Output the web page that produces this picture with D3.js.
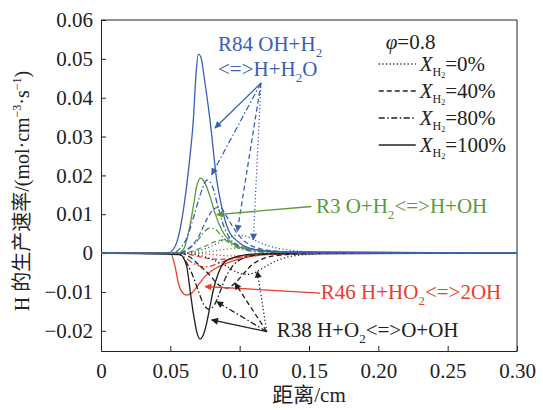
<!DOCTYPE html>
<html>
<head>
<meta charset="utf-8">
<script src="https://cdn.jsdelivr.net/npm/d3@7"></script>
<style>
  body { margin: 0; background: #fff; }
</style>
</head>
<body>
<svg id="chart" width="543" height="410"></svg>
<script>
// ---- data ----
// each curve: [distance cm, H production rate mol/(cm3 s)]
const r84_100 = [[0,0],[0.048,0],[0.0534,0.0017],[0.058,0.008],[0.062,0.018],[0.0645,0.026],[0.0666,0.0343],[0.0685,0.046],[0.0702,0.0512],[0.072,0.0505],[0.0745,0.045],[0.0786,0.0343],[0.0834,0.019],[0.087,0.012],[0.0918,0.006],[0.1,0.0026],[0.11,0.001],[0.13,0.0003],[0.3,0]];
const r84_80  = [[0,0],[0.052,0],[0.057,0.0012],[0.062,0.004],[0.067,0.0095],[0.072,0.0155],[0.0765,0.0188],[0.08,0.0175],[0.084,0.0125],[0.088,0.0075],[0.093,0.0038],[0.1,0.0016],[0.11,0.0006],[0.13,0.0002],[0.3,0]];
const r84_40  = [[0,0],[0.056,0],[0.063,0.0012],[0.07,0.004],[0.076,0.0085],[0.082,0.0115],[0.086,0.0118],[0.09,0.0098],[0.095,0.0068],[0.1,0.0043],[0.106,0.0024],[0.115,0.0011],[0.13,0.0004],[0.16,0.0001],[0.3,0]];
const r84_0   = [[0,0],[0.06,0],[0.07,0.0006],[0.08,0.0018],[0.09,0.0036],[0.098,0.0046],[0.104,0.0044],[0.11,0.0035],[0.118,0.0022],[0.128,0.0012],[0.14,0.0006],[0.16,0.0002],[0.3,0]];

const r3_100 = [[0,0],[0.055,0],[0.0594,0.0009],[0.063,0.0051],[0.0666,0.012],[0.069,0.0172],[0.0719,0.0193],[0.075,0.018],[0.0786,0.0146],[0.0822,0.0103],[0.087,0.006],[0.093,0.003],[0.1026,0.0013],[0.13,0.0004],[0.3,0]];
const r3_80  = [[0,0],[0.055,0],[0.062,0.0008],[0.068,0.0025],[0.073,0.0048],[0.078,0.0064],[0.082,0.0062],[0.086,0.0048],[0.091,0.003],[0.097,0.0016],[0.105,0.0007],[0.12,0.0002],[0.3,0]];
const r3_40  = [[0,0],[0.058,0],[0.066,0.0005],[0.074,0.0016],[0.082,0.0029],[0.088,0.0034],[0.094,0.0029],[0.1,0.002],[0.108,0.0011],[0.12,0.0004],[0.14,0.0001],[0.3,0]];
const r3_0   = [[0,0],[0.065,0],[0.078,0.0004],[0.09,0.001],[0.1,0.0013],[0.108,0.0011],[0.118,0.0007],[0.13,0.0003],[0.15,0.0001],[0.3,0]];

const r46_100 = [[0,0],[0.05,0],[0.0534,-0.0034],[0.0558,-0.0077],[0.0582,-0.0099],[0.0618,-0.0108],[0.0654,-0.0103],[0.0702,-0.0082],[0.075,-0.006],[0.081,-0.0043],[0.0906,-0.0026],[0.1026,-0.0013],[0.1194,-0.0004],[0.15,-0.0001],[0.3,0]];
const r46_80  = [[0,0],[0.054,0],[0.06,-0.001],[0.066,-0.0025],[0.072,-0.0034],[0.077,-0.0035],[0.083,-0.0029],[0.091,-0.0018],[0.1,-0.0009],[0.115,-0.0003],[0.14,-0.0001],[0.3,0]];
const r46_40  = [[0,0],[0.058,0],[0.066,-0.0005],[0.075,-0.0012],[0.085,-0.0016],[0.093,-0.0015],[0.103,-0.0009],[0.115,-0.0004],[0.135,-0.0001],[0.3,0]];
const r46_0   = [[0,0],[0.065,0],[0.078,-0.0003],[0.092,-0.0007],[0.102,-0.0007],[0.114,-0.0004],[0.13,-0.0002],[0.15,0],[0.3,0]];

const r38_100 = [[0,0],[0.057,-0.0004],[0.0618,-0.0034],[0.0642,-0.0095],[0.0666,-0.0155],[0.069,-0.0202],[0.0714,-0.0221],[0.0738,-0.021],[0.0762,-0.018],[0.0786,-0.0137],[0.081,-0.0095],[0.0846,-0.0052],[0.0894,-0.0022],[0.0978,-0.0009],[0.1122,-0.0002],[0.3,0]];
const r38_80  = [[0,0],[0.054,0],[0.06,-0.0015],[0.065,-0.0048],[0.07,-0.0095],[0.074,-0.0132],[0.078,-0.0145],[0.082,-0.0132],[0.086,-0.0098],[0.09,-0.0062],[0.095,-0.0033],[0.102,-0.0014],[0.112,-0.0005],[0.13,-0.0001],[0.3,0]];
const r38_40  = [[0,0],[0.057,0],[0.064,-0.001],[0.071,-0.0032],[0.078,-0.0055],[0.085,-0.0082],[0.091,-0.009],[0.097,-0.0076],[0.103,-0.0052],[0.109,-0.003],[0.117,-0.0014],[0.13,-0.0005],[0.15,-0.0001],[0.3,0]];
const r38_0   = [[0,0],[0.06,0],[0.07,-0.0005],[0.08,-0.0016],[0.09,-0.0033],[0.098,-0.0049],[0.105,-0.0055],[0.111,-0.005],[0.117,-0.0038],[0.125,-0.0022],[0.135,-0.001],[0.15,-0.0003],[0.17,0],[0.3,0]];

const xTicks = [0, 0.05, 0.10, 0.15, 0.20, 0.25, 0.30];
const yTicks = [-0.02, -0.01, 0, 0.01, 0.02, 0.03, 0.04, 0.05, 0.06];
const h2Labels = ["0%", "40%", "80%", "100%"];

// annotation arrows: [fromX, fromY, toX, toY]
const r84Arrows = [[0.1154,0.0438,0.0822,0.0322],[0.1154,0.0438,0.0798,0.0202],[0.1154,0.0438,0.0983,0.0056],[0.1154,0.0438,0.1098,0.0034]];
const r3Arrow   = [[0.1517,0.012,0.0834,0.0099]];
const r46Arrow  = [[0.158,-0.0103,0.075,-0.0086]];
const r38Arrows = [[0.1195,-0.0202,0.0798,-0.0172],[0.1195,-0.0202,0.0834,-0.0125],[0.1195,-0.0202,0.0966,-0.0077],[0.1195,-0.0202,0.1127,-0.0047]];

// ---- pick a serif face that is really installed ----
function hasFont(name) {
    const c = document.createElement("canvas").getContext("2d");
    const s = "mmmmmmmmmwwwlli10.06RHO";
    return ["monospace", "sans-serif"].some(function(base) {
        c.font = "72px " + base;
        const w0 = c.measureText(s).width;
        c.font = "72px \"" + name + "\", " + base;
        return c.measureText(s).width !== w0;
    });
}
const serifFace = ["Liberation Serif", "Tinos", "DejaVu Serif", "Noto Serif", "FreeSerif", "Times New Roman"].find(hasFont);
const FONT = (serifFace ? "\"" + serifFace + "\", " : "") + "serif";
const FONT_CJK = FONT + ", \"Noto Sans CJK SC\"";

// ---- styles ----
const dashes = ["1.2,2.4", "5,3", "6,2.5,1.5,2.5", null];   // 0%, 40%, 80%, 100%
const colors = { r84: "#3a60b6", r3: "#5a9a3a", r46: "#ea3d2b", r38: "#1e1e1e" };

const svg = d3.select("#chart");
const margin = { top: 20, right: 26, bottom: 59, left: 101 };
const width = 543 - margin.left - margin.right,
      height = 410 - margin.top - margin.bottom;

const g = svg.append("g").attr("transform", "translate(" + margin.left + "," + margin.top + ")");

const x = d3.scaleLinear().domain([0, 0.30]).range([0, width]);
const y = d3.scaleLinear().domain([-0.0252, 0.06]).range([height, 0]);

const fmt = d => d === 0 ? "0" : d3.format(".2f")(d);

// arrow heads
const defs = svg.append("defs");
Object.keys(colors).forEach(function(k) {
    defs.append("marker")
        .attr("id", "arrow-" + k)
        .attr("viewBox", "0 0 10 10")
        .attr("refX", 9).attr("refY", 5)
        .attr("markerWidth", 9).attr("markerHeight", 7)
        .attr("markerUnits", "userSpaceOnUse")
        .attr("orient", "auto")
        .append("path")
        .attr("d", "M0,0 L10,5 L0,10 Z")
        .attr("fill", colors[k]);
});

// axes
g.append("g")
    .attr("transform", "translate(0," + height + ")")
    .call(d3.axisBottom(x).tickValues(xTicks).tickFormat(fmt).tickSizeInner(-5).tickSizeOuter(0).tickPadding(12))
    .call(a => a.attr("font-family", FONT).attr("font-size", 21).selectAll("text").attr("fill", "#222"));

g.append("g")
    .call(d3.axisLeft(y).tickValues(yTicks).tickFormat(fmt).tickSizeInner(-5).tickSizeOuter(0).tickPadding(8))
    .call(a => a.attr("font-family", FONT).attr("font-size", 21).selectAll("text").attr("fill", "#222"));

g.selectAll(".domain, .tick line").attr("stroke", "#222");

// top & right frame
g.append("line").attr("x1", 0).attr("x2", width).attr("y1", 0).attr("y2", 0).attr("stroke", "#222");
g.append("line").attr("x1", width).attr("x2", width).attr("y1", 0).attr("y2", height).attr("stroke", "#222");

// curves
const line = d3.line()
    .x(d => x(d[0]))
    .y(d => y(d[1]))
    .curve(d3.curveMonotoneX);

const series = [
    { c: "r46", sets: [r46_0, r46_40, r46_80, r46_100] },
    { c: "r38", sets: [r38_0, r38_40, r38_80, r38_100] },
    { c: "r3",  sets: [r3_0, r3_40, r3_80, r3_100] },
    { c: "r84", sets: [r84_0, r84_40, r84_80, r84_100] }
];

series.forEach(function(s) {
    s.sets.forEach(function(data, i) {
        g.append("path")
            .datum(data)
            .attr("fill", "none")
            .attr("stroke", colors[s.c])
            .attr("stroke-width", 1.3)
            .attr("stroke-dasharray", dashes[i])
            .attr("d", line);
    });
});

// annotation arrows
function arrows(list, key, styled) {
    list.forEach(function(a, i) {
        g.append("line")
            .attr("x1", x(a[0])).attr("y1", y(a[1]))
            .attr("x2", x(a[2])).attr("y2", y(a[3]))
            .attr("stroke", colors[key])
            .attr("stroke-width", 1.3)
            .attr("stroke-dasharray", styled ? [null, dashes[2], dashes[1], dashes[0]][i] : null)
            .attr("marker-end", "url(#arrow-" + key + ")");
    });
}
arrows(r84Arrows, "r84", true);
arrows(r3Arrow, "r3", false);
arrows(r46Arrow, "r46", false);
arrows(r38Arrows, "r38", true);

// text with subscripts: parts = [text, isSub]
function richText(px, py, parts, color, size) {
    const t = g.append("text").attr("x", px).attr("y", py)
        .attr("font-family", FONT).attr("font-size", size).attr("fill", color);
    let shifted = false;
    parts.forEach(function(p) {
        const ts = t.append("tspan").text(p[0]);
        if (p[1] && !shifted) { ts.attr("dy", size * 0.28).attr("font-size", size * 0.62); shifted = true; }
        else if (!p[1] && shifted) { ts.attr("dy", -size * 0.28); shifted = false; }
    });
    return t;
}

richText(x(0.0844), y(0.0521), [["R84 OH+H"], ["2", true]], colors.r84, 21);
richText(x(0.0844), y(0.0455), [["<=>H+H"], ["2", true], ["O"]], colors.r84, 21);
richText(x(0.155), y(0.0104), [["R3 O+H"], ["2", true], ["<=>H+OH"]], colors.r3, 21);
richText(x(0.1585), y(-0.0118), [["R46 H+HO"], ["2", true], ["<=>2OH"]], colors.r46, 21);
richText(x(0.1267), y(-0.0215), [["R38 H+O"], ["2", true], ["<=>O+OH"]], colors.r38, 21);

// legend
const lg = g.append("g").attr("transform", "translate(" + (x(0.2003)) + ",0)")
    .attr("font-family", FONT).attr("fill", "#222");
lg.append("text").attr("x", 7).attr("y", 29).attr("font-size", 21)
    .call(t => { t.append("tspan").attr("font-style", "italic").text("φ"); t.append("tspan").text("=0.8"); });

h2Labels.forEach(function(lab, i) {
    const yy = 44 + i * 27;
    lg.append("line").attr("x1", 0).attr("x2", 37).attr("y1", yy).attr("y2", yy)
        .attr("stroke", "#222").attr("stroke-width", 1.3).attr("stroke-dasharray", dashes[i]);
    const t = lg.append("text").attr("x", 41).attr("y", yy + 7).attr("font-size", 21);
    t.append("tspan").attr("font-style", "italic").text("X");
    t.append("tspan").attr("font-size", 12).attr("dy", 5).text("H");
    t.append("tspan").attr("font-size", 8).attr("dy", 2).text("2");
    t.append("tspan").attr("dy", -7).text("=" + lab);
});

// axis titles
svg.append("text")
    .attr("x", margin.left + width / 2).attr("y", 402)
    .attr("text-anchor", "middle").attr("font-size", 21)
    .attr("font-family", FONT_CJK).attr("fill", "#222")
    .text("距离/cm");

const yl = svg.append("text")
    .attr("transform", "translate(29," + 191 + ") rotate(-90)")
    .attr("text-anchor", "middle").attr("font-size", 20)
    .attr("font-family", FONT_CJK).attr("fill", "#222");
yl.append("tspan").text("H 的生产速率/(mol·cm");
yl.append("tspan").attr("font-size", 12).attr("dy", -8).text("−3");
yl.append("tspan").attr("dy", 8).text("·s");
yl.append("tspan").attr("font-size", 12).attr("dy", -8).text("−1");
yl.append("tspan").attr("dy", 8).text(")");
</script>
</body>
</html>
